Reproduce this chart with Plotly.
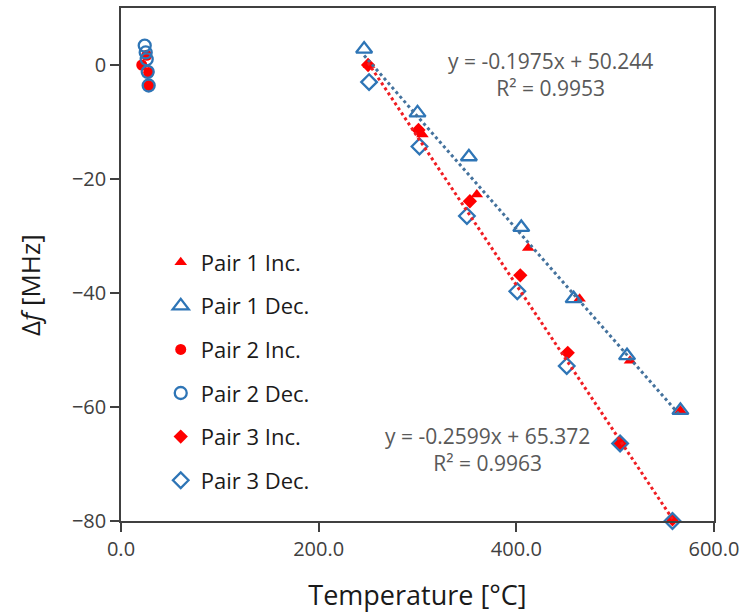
import plotly.graph_objects as go

# Frequency shift vs temperature for three sensor pairs (increasing / decreasing runs)
p1_inc_t = [251, 305, 360, 412, 464, 515, 566]
p1_inc_df = [0.0, -12.2, -22.7, -32.1, -41.0, -51.9, -60.6]

p1_dec_t = [246, 300, 352, 405, 458, 512, 566]
p1_dec_df = [2.8, -8.4, -16.1, -28.5, -41.0, -51.0, -60.6]

p2_inc_t = [21, 26, 28, 28]
p2_inc_df = [0.0, 1.7, -1.3, -3.6]

p2_dec_t = [24, 25, 26, 27, 28]
p2_dec_df = [3.4, 2.2, 1.0, -1.2, -3.6]

p3_inc_t = [250, 301, 353, 404, 452, 505, 558]
p3_inc_df = [0.0, -11.4, -23.9, -36.9, -50.5, -66.4, -79.7]

p3_dec_t = [251, 302, 350, 401, 451, 505, 558]
p3_dec_df = [-3.0, -14.3, -26.5, -39.7, -52.8, -66.4, -80.0]

# Linear fits (slope, intercept, R^2)
fit1 = (-0.1975, 50.244, 0.9953)
fit2 = (-0.2599, 65.372, 0.9963)

RED = "#FF0000"
BLUE = "#2E75B6"
FIT_BLUE = "#44729D"
FIT_RED = "#F01E23"

fig = go.Figure()

series = [
    ("Pair 1 Inc.", p1_inc_t, p1_inc_df, dict(symbol="triangle-up", size=11, color=RED)),
    ("Pair 1 Dec.", p1_dec_t, p1_dec_df, dict(symbol="triangle-up-open", size=14, color=BLUE, line=dict(width=2.3, color=BLUE))),
    ("Pair 2 Inc.", p2_inc_t, p2_inc_df, dict(symbol="circle", size=11, color=RED)),
    ("Pair 2 Dec.", p2_dec_t, p2_dec_df, dict(symbol="circle-open", size=12, color=BLUE, line=dict(width=2.3, color=BLUE))),
    ("Pair 3 Inc.", p3_inc_t, p3_inc_df, dict(symbol="diamond", size=11, color=RED)),
    ("Pair 3 Dec.", p3_dec_t, p3_dec_df, dict(symbol="diamond-open", size=12, color=BLUE, line=dict(width=2.3, color=BLUE))),
]

for i, (name, xs, ys, mk) in enumerate(series):
    fig.add_trace(go.Scatter(
        x=xs, y=ys, mode="markers", name=name, marker=mk,
        legendgroup=f"g{i}", cliponaxis=False,
    ))

# Trend lines over the fitted temperature span
def fit_line(fit, xs, color):
    x0, x1 = min(xs), max(xs)
    m, b, _ = fit
    fig.add_trace(go.Scatter(
        x=[x0, x1], y=[m * x0 + b, m * x1 + b], mode="lines",
        line=dict(color=color, width=3, dash="dot"),
        showlegend=False, hoverinfo="skip", cliponaxis=False,
    ))

fit_line(fit1, p1_inc_t + p1_dec_t, FIT_BLUE)
fit_line(fit2, p3_inc_t + p3_dec_t, FIT_RED)

def fit_text(fit):
    m, b, r2 = fit
    return f"y = {m:.4f}x + {b:.3f}<br>R² = {r2:.4f}"

fig.add_annotation(x=435, y=-1.7, text=fit_text(fit1), showarrow=False,
                   xref="x", yref="y", font=dict(size=21, color="#595959"),
                   align="center")
fig.add_annotation(x=371, y=-67.4, text=fit_text(fit2), showarrow=False,
                   xref="x", yref="y", font=dict(size=21, color="#595959"),
                   align="center")

axis_common = dict(
    showline=True, linecolor="#404040", linewidth=1.5, mirror=True,
    ticks="outside", ticklen=9, tickcolor="#404040", tickwidth=1.5,
    showgrid=False, zeroline=False,
    tickfont=dict(size=20, color="#404040"),
)

fig.update_xaxes(range=[0, 600], tickvals=[0, 200, 400, 600], tickformat=".1f",
                 title=dict(text="Temperature [°C]", font=dict(size=27, color="#1a1a1a"), standoff=26),
                 **axis_common)
fig.update_yaxes(range=[-80, 10], tickvals=[0, -20, -40, -60, -80], **axis_common)

# Vertical axis title
fig.add_annotation(x=-0.1535, y=0.46, xref="paper", yref="paper",
                   xanchor="center", yanchor="middle",
                   text="Δ<i>f</i> [MHz]", textangle=-90, showarrow=False,
                   font=dict(size=26, color="#1a1a1a"))

fig.update_layout(
    width=751, height=613,
    margin=dict(l=121, r=37, t=6, b=92),
    plot_bgcolor="white", paper_bgcolor="white",
    font=dict(family="Open Sans"),
    legend=dict(x=0.067, y=0.545, xanchor="left", yanchor="top",
                font=dict(size=22, color="#1a1a1a"),
                tracegroupgap=12, bgcolor="rgba(0,0,0,0)",
                itemwidth=30),
)

fig.write_html("out.html")
